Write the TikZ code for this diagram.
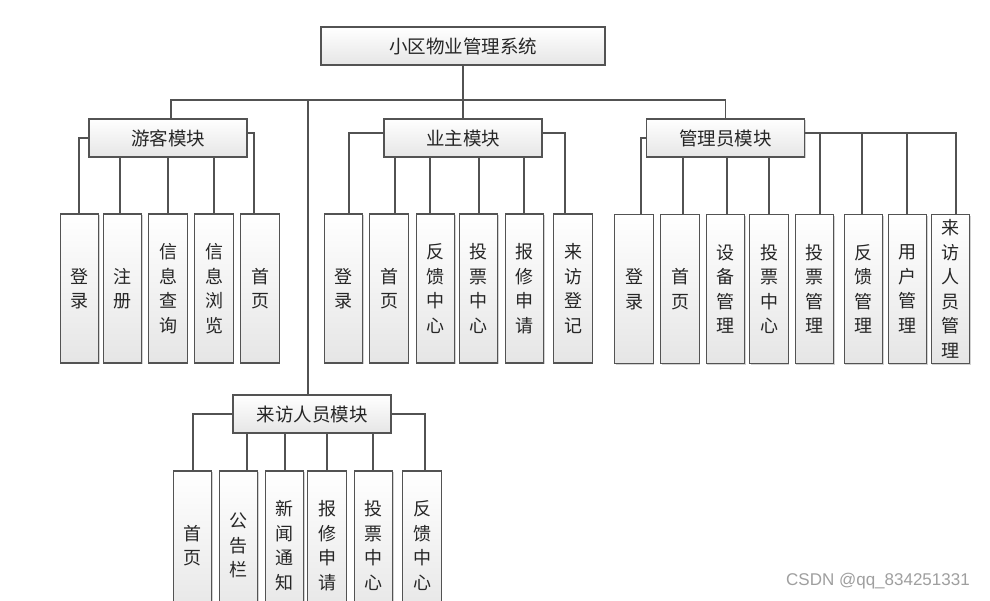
\documentclass[tikz,border=0pt]{standalone}
\usepackage{fontspec}
\newfontfamily\cjk{Noto Sans CJK SC}
\newfontfamily\wm{Liberation Sans}
\usetikzlibrary{shadows}
\begin{document}
\begin{tikzpicture}[x=1pt,y=-1pt,
  box/.style={draw=gray!65!black, line width=1.1pt, top color=white, bottom color=gray!20,
    drop shadow={opacity=0.35, shadow xshift=1.2pt, shadow yshift=-1.2pt, fill=gray},
    inner sep=0pt, font=\cjk\fontsize{18.5}{22}\selectfont, text=black!85},
  modbox/.style={box, minimum width=158pt, minimum height=38pt},
  topbox/.style={box, minimum width=284pt, minimum height=38pt},
  leaf/.style={box, minimum width=38.5pt, minimum height=149pt, align=center,
    font=\cjk\fontsize{18}{24.5}\selectfont},
  conn/.style={draw=black!68, line width=1.8pt}]
\useasboundingbox (0,0) rectangle (990,600);
\clip (0,0) rectangle (990,600);
\fill[white] (0,0) rectangle (990,600);

% top
\node[topbox] (top) at (463,46) {小区物业管理系统};
% modules
\node[modbox] (gm) at (168,138) {游客模块};
\node[modbox] (om) at (463,138) {业主模块};
\node[modbox] (am) at (725.5,138) {管理员模块};
\node[modbox] (vm) at (312,414) {来访人员模块};
\coordinate (bus) at (0,100);

% guest leaves
\node[leaf] (g1) at (79.5,288.5) {登\\录};
\node[leaf] (g2) at (122.5,288.5) {注\\册};
\node[leaf] (g3) at (168,288.5) {信\\息\\查\\询};
\node[leaf] (g4) at (214,288.5) {信\\息\\浏\\览};
\node[leaf] (g5) at (260,288.5) {首\\页};

% owner leaves
\node[leaf] (o1) at (343.5,288.5) {登\\录};
\node[leaf] (o2) at (389,288.5) {首\\页};
\node[leaf] (o3) at (435.5,288.5) {反\\馈\\中\\心};
\node[leaf] (o4) at (478.5,288.5) {投\\票\\中\\心};
\node[leaf] (o5) at (524.5,288.5) {报\\修\\申\\请};
\node[leaf] (o6) at (573,288.5) {来\\访\\登\\记};

% admin leaves
\node[leaf] (a1) at (634,289) {登\\录};
\node[leaf] (a2) at (680,289) {首\\页};
\node[leaf] (a3) at (725.5,289) {设\\备\\管\\理};
\node[leaf] (a4) at (769,289) {投\\票\\中\\心};
\node[leaf] (a5) at (814.5,289) {投\\票\\管\\理};
\node[leaf] (a6) at (863.5,289) {反\\馈\\管\\理};
\node[leaf] (a7) at (907.5,289) {用\\户\\管\\理};
\node[leaf] (a8) at (950.5,289) {来\\访\\人\\员\\管\\理};

% visitor leaves
\node[leaf] (v1) at (192.5,545.5) {首\\页};
\node[leaf] (v2) at (238.5,545.5) {公\\告\\栏};
\node[leaf] (v3) at (284.5,545.5) {新\\闻\\通\\知};
\node[leaf] (v4) at (327,545.5) {报\\修\\申\\请};
\node[leaf] (v5) at (373.5,545.5) {投\\票\\中\\心};
\node[leaf] (v6) at (422,545.5) {反\\馈\\中\\心};

% main connectors
\draw[conn] ([xshift=3pt]gm.north) -- ([xshift=3pt]gm.north |- bus) -| (am.north);
\draw[conn] (top.south) -- (om.north);
\draw[conn] ([xshift=-4pt]vm.north) -- ([xshift=-4pt]vm.north |- bus);

% guest connectors
\draw[conn] ([xshift=-0.5pt]g1.north) |- (gm.west);
\draw[conn] ([xshift=-2.5pt]g2.north) -- ([xshift=-2.5pt]g2.north |- gm.south);
\draw[conn] (g3.north) -- (g3.north |- gm.south);
\draw[conn] (g4.north) -- (g4.north |- gm.south);
\draw[conn] ([xshift=-6pt]g5.north) |- ([yshift=5pt]gm.east);

% owner connectors
\draw[conn] ([xshift=5.5pt]o1.north) |- ([yshift=5pt]om.west);
\draw[conn] ([xshift=6pt]o2.north) -- ([xshift=6pt]o2.north |- om.south);
\draw[conn] ([xshift=-5.5pt]o3.north) -- ([xshift=-5.5pt]o3.north |- om.south);
\draw[conn] ([xshift=0.5pt]o4.north) -- ([xshift=0.5pt]o4.north |- om.south);
\draw[conn] ([xshift=-0.5pt]o5.north) -- ([xshift=-0.5pt]o5.north |- om.south);
\draw[conn] ([xshift=-8pt]o6.north) |- ([yshift=5pt]om.east);

% admin connectors
\coordinate (amR) at ([yshift=5pt]am.east);
\draw[conn] ([xshift=7pt]a1.north) |- (am.west);
\draw[conn] ([xshift=3pt]a2.north) -- ([xshift=3pt]a2.north |- am.south);
\draw[conn] ([xshift=1.5pt]a3.north) -- ([xshift=1.5pt]a3.north |- am.south);
\draw[conn] (a4.north) -- (a4.north |- am.south);
\draw[conn] (amR) -| ([xshift=5.5pt]a8.north);
\draw[conn] ([xshift=5.5pt]a5.north) -- ([xshift=5.5pt]a5.north |- amR);
\draw[conn] ([xshift=-1.5pt]a6.north) -- ([xshift=-1.5pt]a6.north |- amR);
\draw[conn] ([xshift=-0.5pt]a7.north) -- ([xshift=-0.5pt]a7.north |- amR);

% visitor connectors
\draw[conn] ([xshift=0.5pt]v1.north) |- (vm.west);
\draw[conn] ([xshift=8.5pt]v2.north) -- ([xshift=8.5pt]v2.north |- vm.south);
\draw[conn] ([xshift=0.5pt]v3.north) -- ([xshift=0.5pt]v3.north |- vm.south);
\draw[conn] (v4.north) -- (v4.north |- vm.south);
\draw[conn] ([xshift=-0.5pt]v5.north) -- ([xshift=-0.5pt]v5.north |- vm.south);
\draw[conn] ([xshift=3pt]v6.north) |- (vm.east);

% watermark
\node[font=\wm\fontsize{17}{20}\selectfont, text=gray!75, inner sep=0pt] (wmk) at (878,581) {CSDN @qq\_834251331};
\end{tikzpicture}
\end{document}
